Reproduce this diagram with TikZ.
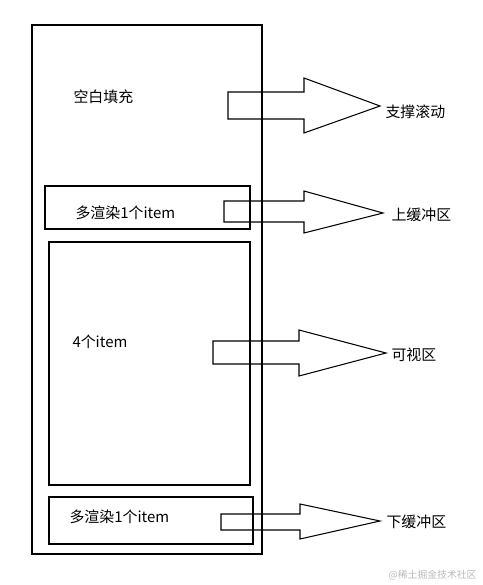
\documentclass[tikz,border=0pt]{standalone}
\usepackage{fontspec}
\setmainfont{Noto Sans CJK SC}
\usetikzlibrary{positioning}

\begin{document}
\begin{tikzpicture}[x=0.02cm,y=-0.02cm,line width=0.6pt,font=\fontsize{8.5}{10}\selectfont]
\tikzstyle{frm}=[draw,line width=0.6pt]
\tikzstyle{arr}=[draw,line width=0.6pt,line join=miter]
\tikzstyle{lbl}=[inner sep=0pt,anchor=west]
\useasboundingbox (0,0) rectangle (483,585);
% list frame and its parts
\draw[frm] (32,25) rectangle (262,554);
\draw[frm] (45,186) rectangle (250,229);
\draw[frm] (49,242) rectangle (250,485);
\draw[frm] (49,497) rectangle (253,544);
\node[lbl] (fill) at (73,97) {空白填充};
\node[lbl] (up) at (75,213) {多渲染1个item};
\node[lbl] (vis) at (72,342) {4个item};
\node[lbl] (down) at (69,517) {多渲染1个item};
% block arrows: tail x / shaft top / shaft bottom / head x / head top / head bottom / tip
\foreach \n/\tx/\st/\sb/\hx/\ht/\hb/\px/\py/\t in {a/228/92/119/304/78/133/380/106/支撑滚动,b/224/201/222/304/191/233/383/213/上缓冲区,c/213/341/364/299/330/376/386/353/可视区,d/221/514/530/300/504/539/380/521/下缓冲区} {
  \draw[arr] (\tx,\st) -- (\hx,\st) -- (\hx,\ht) -- (\px,\py) -- (\hx,\hb) -- (\hx,\sb) -- (\tx,\sb) -- cycle;
  \coordinate (tip\n) at (\px,\py);
}
\node[lbl] (la) at (385,112) {支撑滚动};
\node[lbl] (lb) at (391,215) {上缓冲区};
\node[lbl] (lc) at (391,355) {可视区};
\node[lbl] (ld) at (386,522) {下缓冲区};
\node[lbl,font=\fontsize{5.6}{7}\selectfont,text=gray!55] (wm) at (388,575) {@稀土掘金技术社区};
\end{tikzpicture}
\end{document}
